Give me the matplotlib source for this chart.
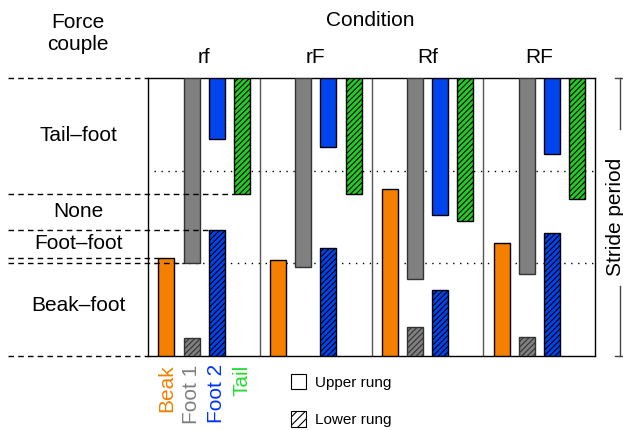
import numpy as np
import matplotlib
matplotlib.use('Agg')
import matplotlib.pyplot as plt
from matplotlib.patches import Patch
from matplotlib.transforms import blended_transform_factory

plt.rcParams['font.family'] = ['Liberation Sans', 'DejaVu Sans']
plt.rcParams['hatch.linewidth'] = 0.8
plt.rcParams['hatch.color'] = 'black'

# conditions and limbs
conditions = ['rf', 'rF', 'Rf', 'RF']
limbs = ['Beak', 'Foot 1', 'Foot 2', 'Tail']
limb_colors = ['#f57f00', '#808080', '#0044ee', '#22cc22']
text_colors = ['#f08000', '#808080', '#0033ff', '#22dd33']

# contact intervals as fraction of stride (nan = no contact)
# upper rung (solid)
upper_start = {
    'Beak':   [0.0, 0.0, 0.0, 0.0],
    'Foot 1': [0.335, 0.319, 0.276, 0.296],
    'Foot 2': [0.780, 0.752, 0.507, 0.725],
    'Tail':   [np.nan, np.nan, np.nan, np.nan],
}
upper_end = {
    'Beak':   [0.353, 0.344, 0.600, 0.405],
    'Foot 1': [1.0, 1.0, 1.0, 1.0],
    'Foot 2': [1.0, 1.0, 1.0, 1.0],
    'Tail':   [np.nan, np.nan, np.nan, np.nan],
}
# lower rung (hatched)
lower_start = {
    'Beak':   [np.nan, np.nan, np.nan, np.nan],
    'Foot 1': [0.0, np.nan, 0.0, 0.0],
    'Foot 2': [0.0, 0.0, 0.0, 0.0],
    'Tail':   [0.583, 0.582, 0.487, 0.564],
}
lower_end = {
    'Beak':   [np.nan, np.nan, np.nan, np.nan],
    'Foot 1': [0.064, np.nan, 0.105, 0.067],
    'Foot 2': [0.453, 0.387, 0.236, 0.441],
    'Tail':   [1.0, 1.0, 1.0, 1.0],
}

# force couple phases (for the rf condition)
couple_names = ['Tail–foot', 'None', 'Foot–foot', 'Beak–foot']
couple_bounds = [1.0, 0.583, 0.453, 0.353, 0.0]
dotted_levels = [0.335, 0.665]

bar_w = 0.143
offsets = [0.165, 0.39, 0.615, 0.84]
fs = 15

fig = plt.figure(figsize=(6.23, 4.30), dpi=100)
ax = fig.add_axes([148/623, 1-356/430, 447/623, 278/430])
ax.set_xlim(0, 4)
ax.set_ylim(0, 1)

for k, limb in enumerate(limbs):
    xs = np.arange(len(conditions)) + offsets[k]
    ec = '#333333' if limb == 'Foot 1' else 'black'
    us, ue = np.array(upper_start[limb]), np.array(upper_end[limb])
    ls, le = np.array(lower_start[limb]), np.array(lower_end[limb])
    m = ~np.isnan(us)
    if m.any():
        ax.bar(xs[m], (ue - us)[m], bottom=us[m], width=bar_w,
               color=limb_colors[k], edgecolor=ec, linewidth=1, zorder=3)
    m = ~np.isnan(ls)
    if m.any():
        ax.bar(xs[m], (le - ls)[m], bottom=ls[m], width=bar_w,
               color=limb_colors[k], edgecolor=ec, linewidth=1,
               hatch='//////', zorder=3)

# dotted guide lines and group dividers
for lev in dotted_levels:
    ax.plot([0.05, 4], [lev, lev], ls=(0, (1, 4)), color='black', lw=1, zorder=1)
for g in range(1, len(conditions)):
    ax.axvline(g, color='#555555', lw=1, zorder=2)

# dashed force-couple boundaries, running to the bar that ends each phase
x_far = -(148 - 8) / 111.75
ends = [0, offsets[3] - bar_w/2, offsets[2] - bar_w/2, offsets[0] - bar_w/2, 0]
for y, xe in zip(couple_bounds, ends):
    ax.plot([x_far, xe], [y, y], ls=(0, (4, 3)), color='black', lw=1,
            clip_on=False, zorder=4)
ax.plot([x_far, offsets[1] - bar_w/2], [dotted_levels[0]] * 2, ls=(0, (4, 3)),
        color='black', lw=1, clip_on=False, zorder=4)

trans = blended_transform_factory(fig.transFigure, ax.transData)
for name, top, bot in zip(couple_names, couple_bounds[:-1], couple_bounds[1:]):
    yc = (top + bot) / 2
    if name == 'Beak–foot':
        yc = 0.183
    ax.text(78/623, yc, name, transform=trans, ha='center', va='center',
            fontsize=fs)

fig.text(78/623, 1-33/430, 'Force\ncouple', ha='center', va='center',
         fontsize=fs, linespacing=1.2)
fig.text(370/623, 1-20/430, 'Condition', ha='center', va='center', fontsize=fs)
for g, c in enumerate(conditions):
    ax.text(g + 0.5, 1.072, c, transform=ax.get_xaxis_transform(),
            ha='center', va='center', fontsize=fs)

for k, limb in enumerate(limbs):
    ax.text(offsets[k], -0.03, limb, transform=ax.get_xaxis_transform(),
            rotation=90, ha='center', va='top', color=text_colors[k],
            fontsize=fs)

# stride period bracket
bx = (620 - 148) / 111.75
ax.plot([bx, bx], [1.0, 0.817], color='#444444', lw=1, clip_on=False)
ax.plot([bx, bx], [0.252, 0.0], color='#444444', lw=1, clip_on=False)
for y in [1.0, 0.0]:
    ax.plot([bx - 0.045, bx + 0.03], [y, y], color='#444444', lw=1, clip_on=False)
fig.text(606/623, 1-217/430, 'Stride period', rotation=90, ha='left',
         va='center', fontsize=fs)

for s in ax.spines.values():
    s.set_linewidth(1)
ax.set_xticks([])
ax.set_yticks([])

handles = [Patch(facecolor='white', edgecolor='black', linewidth=0.8),
           Patch(facecolor='white', edgecolor='black', linewidth=0.8, hatch='////')]
fig.legend(handles, ['Upper rung', 'Lower rung'], loc='upper left',
           bbox_to_anchor=(283/623, 1-366/430), frameon=False, fontsize=11,
           handlelength=1.0, handleheight=1.2, labelspacing=1.4,
           handletextpad=0.6, borderpad=0)

fig.savefig('out.png', dpi=100)
